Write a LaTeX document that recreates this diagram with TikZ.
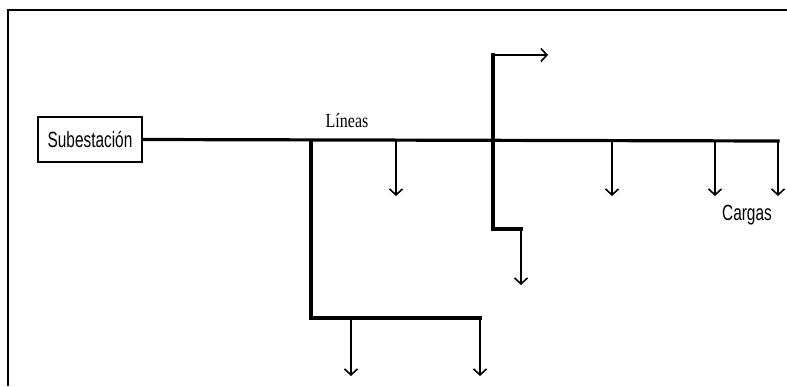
\documentclass[tikz,border=0pt]{standalone}
\usepackage{fontspec}
\setmainfont{Liberation Sans}
\newfontfamily\labelfont[FakeStretch=0.7]{Liberation Sans}
\newfontfamily\linefont[FakeStretch=0.8]{Liberation Serif}
\usetikzlibrary{arrows.meta}
\tikzset{
  feeder/.style={line width=3.2pt, line cap=rect},
  load/.style={line width=1.6pt, -{Straight Barb[length=6pt,width=13pt,line width=1.6pt]}},
  box/.style={draw, line width=1.6pt, minimum width=104pt, minimum height=45pt, inner sep=0pt,
              font=\labelfont\fontsize{22}{23}\selectfont},
  lbl/.style={inner sep=0pt, font=\labelfont\fontsize{22}{23}\selectfont},
  frame/.style={line width=2.4pt}
}
\begin{document}
\begin{tikzpicture}[x=1pt,y=-1pt]
\useasboundingbox (0,0) rectangle (787,386);
% outer frame (left and top edges)
\coordinate (fbl) at (8,386);
\coordinate (ftl) at (8,10);
\coordinate (ftr) at (787,10);
\draw[frame] (fbl) -- (ftl) -- (ftr);

% substation
\node[box] (sub) at (90,139.5) {Subestación};

% junctions on the main feeder
\coordinate (j1) at (311,141);
\coordinate (j2) at (396,141);
\coordinate (j3) at (493,141);
\coordinate (j4) at (612,141);
\coordinate (j5) at (715,141);
\coordinate (j6) at (778,141);

% lower-left lateral
\coordinate (l1) at (311,318);
\coordinate (l2) at (351,318);
\coordinate (l3) at (480,318);

% middle lateral
\coordinate (m0) at (493,55);
\coordinate (m1) at (493,229);
\coordinate (m2) at (521,229);

% load points (arrow tips)
\coordinate (c1) at (396,196);
\coordinate (c2) at (612,196);
\coordinate (c3) at (715,196);
\coordinate (c4) at (778,196);
\coordinate (c5) at (351,376);
\coordinate (c6) at (480,376);
\coordinate (c7) at (521,285);
\coordinate (c8) at (548,55);

% feeders
\draw[feeder] (sub.east) -- (j6);
\draw[feeder] (j1) -- (l1) -- (l3);
\draw[feeder] (m0) -- (m1) -- (m2);

% loads
\draw[load] (j2) -- (c1);
\draw[load] (j4) -- (c2);
\draw[load] (j5) -- (c3);
\draw[load] (j6) -- (c4);
\draw[load] (l2) -- (c5);
\draw[load] (l3) -- (c6);
\draw[load] (m2) -- (c7);
\draw[load] (m0) -- (c8);

% labels
\node[inner sep=0pt, font=\linefont\fontsize{20}{21}\selectfont] (lineas) at (347,121) {Líneas};
\node[lbl] (cargas) at (747,215) {Cargas};
\end{tikzpicture}
\end{document}
